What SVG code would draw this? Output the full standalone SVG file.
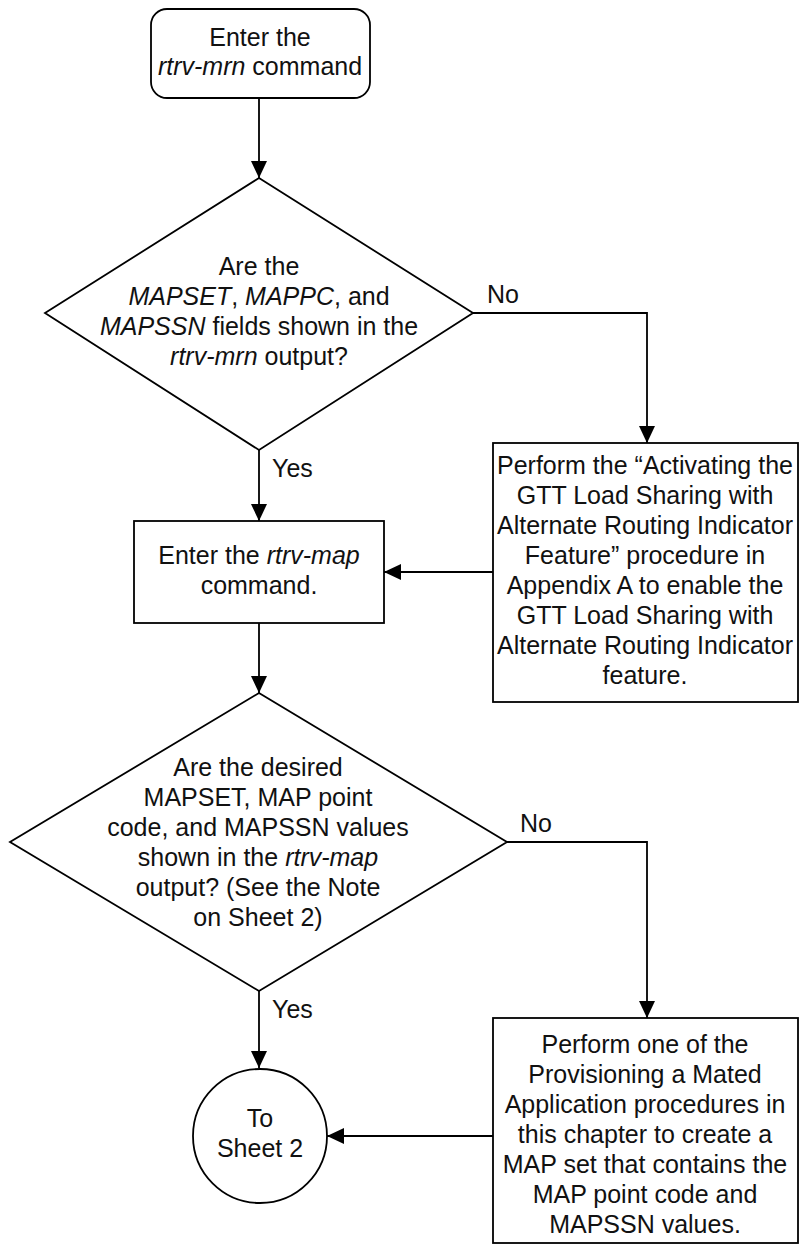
<svg xmlns="http://www.w3.org/2000/svg" width="801" height="1251" viewBox="0 0 801 1251">
<style>
.shape{fill:#fff;stroke:#000;stroke-width:1.8}
.conn{fill:none;stroke:#000;stroke-width:1.8}
text{font-family:"Liberation Sans",Arial,sans-serif;font-size:25px;fill:#111;text-anchor:middle}
.lbl{text-anchor:start}
.i{font-style:italic}
</style>
<defs>
<marker id="arr" markerUnits="userSpaceOnUse" viewBox="0 0 17 16" refX="17" refY="8" markerWidth="17" markerHeight="16" orient="auto">
<path d="M0,0 L17,8 L0,16 z" fill="#000"/>
</marker>
</defs>
<rect width="801" height="1251" fill="#fff"/>
<g id="connectors">
<line class="conn" x1="259" y1="98" x2="259" y2="178" marker-end="url(#arr)"/>
<line class="conn" x1="259" y1="450" x2="259" y2="521" marker-end="url(#arr)"/>
<polyline class="conn" points="473,313 647,313 647,443" marker-end="url(#arr)"/>
<line class="conn" x1="493" y1="572" x2="384" y2="572" marker-end="url(#arr)"/>
<line class="conn" x1="259" y1="623" x2="259" y2="693" marker-end="url(#arr)"/>
<polyline class="conn" points="507,842 647,842 647,1018" marker-end="url(#arr)"/>
<line class="conn" x1="259" y1="991" x2="259" y2="1068" marker-end="url(#arr)"/>
<line class="conn" x1="493" y1="1136" x2="327" y2="1136" marker-end="url(#arr)"/>
<text class="lbl" x="272" y="477">Yes</text>
<text class="lbl" x="487" y="303">No</text>
<text class="lbl" x="520" y="832">No</text>
<text class="lbl" x="272" y="1018">Yes</text>
</g>
<g id="start">
<rect class="shape" x="151" y="9" width="219" height="89" rx="16" ry="16"/>
<text x="260" y="46">Enter the</text>
<text x="260" y="75"><tspan class="i">rtrv-mrn</tspan> command</text>
</g>
<g id="decision1">
<polygon class="shape" points="259,178 473,313 259,450 45,313"/>
<text x="259" y="275">Are the</text>
<text x="259" y="305"><tspan class="i">MAPSET</tspan>, <tspan class="i">MAPPC</tspan>, and</text>
<text x="259" y="335"><tspan class="i">MAPSSN</tspan> fields shown in the</text>
<text x="259" y="365"><tspan class="i">rtrv-mrn</tspan> output?</text>
</g>
<g id="activate">
<rect class="shape" x="493" y="443" width="305" height="259"/>
<text x="645" y="474">Perform the “Activating the</text>
<text x="645" y="504">GTT Load Sharing with</text>
<text x="645" y="534">Alternate Routing Indicator</text>
<text x="645" y="564">Feature” procedure in</text>
<text x="645" y="594">Appendix A to enable the</text>
<text x="645" y="624">GTT Load Sharing with</text>
<text x="645" y="654">Alternate Routing Indicator</text>
<text x="645" y="684">feature.</text>
</g>
<g id="rtrvmap">
<rect class="shape" x="134" y="521" width="250" height="102"/>
<text x="259" y="564">Enter the <tspan class="i">rtrv-map</tspan></text>
<text x="259" y="594">command.</text>
</g>
<g id="decision2">
<polygon class="shape" points="259,693 507,842 259,991 10,842"/>
<text x="258" y="776">Are the desired</text>
<text x="258" y="806">MAPSET, MAP point</text>
<text x="258" y="836">code, and MAPSSN values</text>
<text x="258" y="866">shown in the <tspan class="i">rtrv-map</tspan></text>
<text x="258" y="896">output? (See the Note</text>
<text x="258" y="926">on Sheet 2)</text>
</g>
<g id="provision">
<rect class="shape" x="493" y="1018" width="305" height="225"/>
<text x="645" y="1053">Perform one of the</text>
<text x="645" y="1083">Provisioning a Mated</text>
<text x="645" y="1113">Application procedures in</text>
<text x="645" y="1143">this chapter to create a</text>
<text x="645" y="1173">MAP set that contains the</text>
<text x="645" y="1203">MAP point code and</text>
<text x="645" y="1233">MAPSSN values.</text>
</g>
<g id="sheet2">
<circle class="shape" cx="260" cy="1136" r="67"/>
<text x="260" y="1127">To</text>
<text x="260" y="1157">Sheet 2</text>
</g>
</svg>
